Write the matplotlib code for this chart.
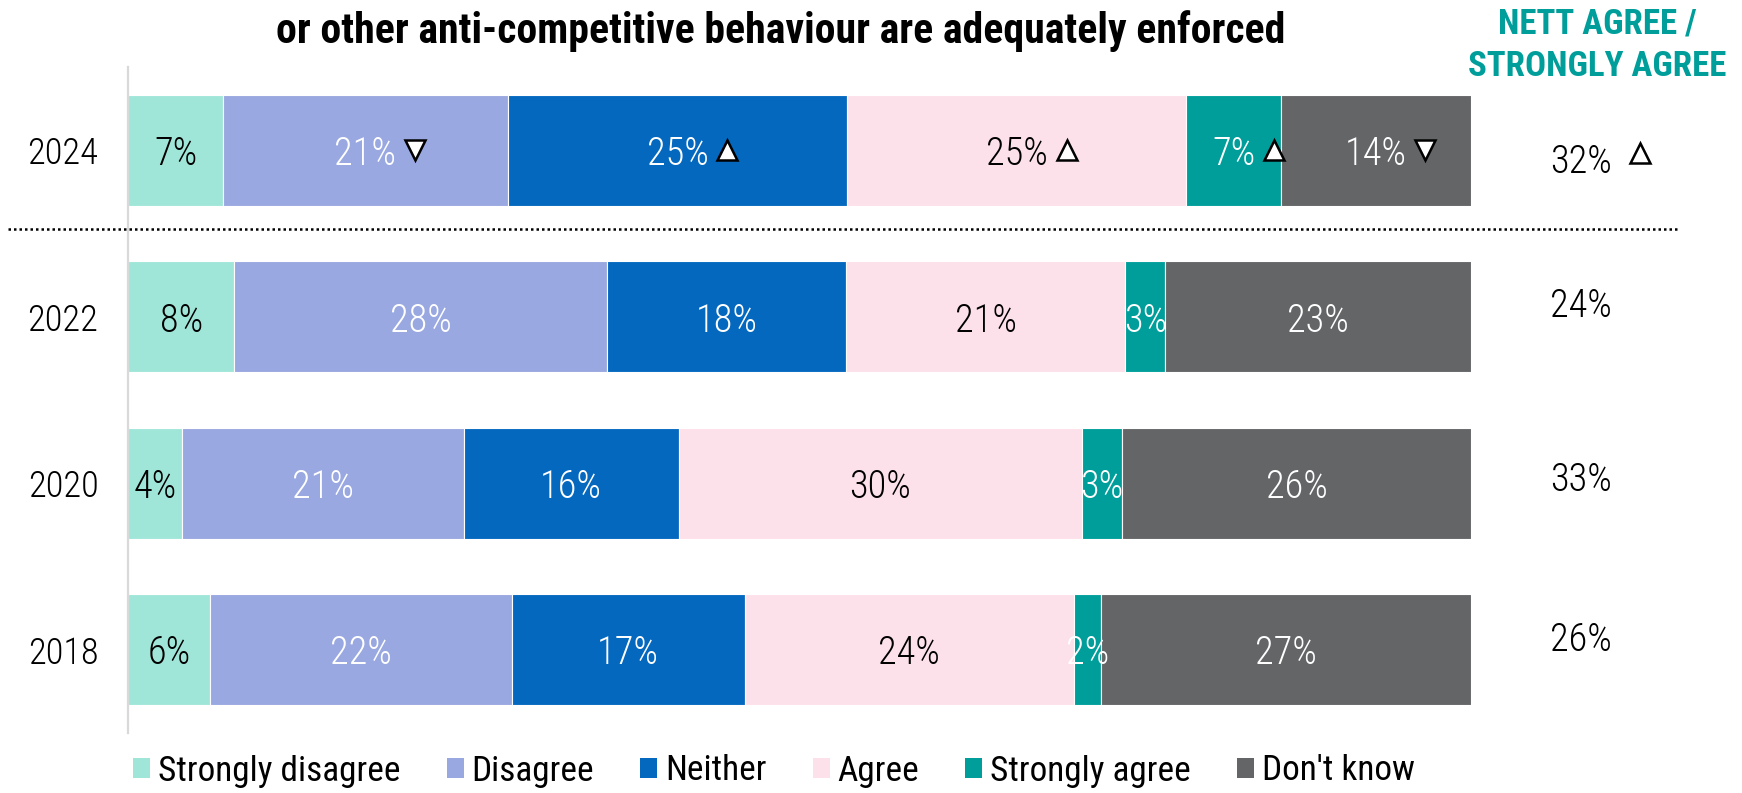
import matplotlib
matplotlib.use("Agg")
import numpy as np
import matplotlib.pyplot as plt
import matplotlib.transforms as mtransforms
from matplotlib import font_manager
from matplotlib.font_manager import FontProperties
from matplotlib.textpath import TextPath
from matplotlib.patches import Patch

# ---- data -------------------------------------------------------------
years = ["2024", "2022", "2020", "2018"]
categories = ["Strongly disagree", "Disagree", "Neither", "Agree",
              "Strongly agree", "Don't know"]
strongly_disagree = [7, 8, 4, 6]
disagree = [21, 28, 21, 22]
neither = [25, 18, 16, 17]
agree = [25, 21, 30, 24]
strongly_agree = [7, 3, 3, 2]
dont_know = [14, 23, 26, 27]
nett_agree = [32, 24, 33, 26]
# significant change vs previous wave (2024 only): +1 up, -1 down, 0 none
sig_2024 = [0, -1, 1, 1, 1, -1]
sig_nett = [1, 0, 0, 0]

title = "or other anti-competitive behaviour are adequately enforced"
nett_header = ["NETT AGREE /", "STRONGLY AGREE"]

colors = ["#A0E6D8", "#99A8E0", "#0468BF", "#FDE1EA", "#009E9A", "#646567"]
label_colors = ["black", "white", "white", "black", "white", "white"]
teal = "#009E9A"

# ---- fonts ------------------------------------------------------------
W, H, DPI = 1742, 793, 100


def _w(f):
    try:
        return int(f.weight)
    except (TypeError, ValueError):
        return font_manager.weight_dict.get(str(f.weight), 400)


def pick_font(prefs, weight, stretches):
    fl = font_manager.fontManager.ttflist
    for name in prefs:
        for st in stretches:
            c = [f for f in fl if f.name == name and f.style == "normal"
                 and f.stretch == st]
            if c:
                best = min(c, key=lambda f: abs(_w(f) - weight))
                return FontProperties(fname=best.fname)
    return FontProperties(family="DejaVu Sans", weight=weight)


def fit_size(fp, s, target_px):
    w = TextPath((0, 0), s, size=100, prop=fp).get_extents().width
    return target_px * 72.0 / DPI * 100.0 / w


prefs = ["Roboto Condensed", "Noto Sans", "Open Sans", "Liberation Sans Narrow",
         "DejaVu Sans"]
fp_title = pick_font(prefs, 800, ["condensed", "semi-condensed"])
fp_lab = pick_font(prefs, 300, ["condensed", "semi-condensed"])
fp_leg = pick_font(prefs, 400, ["semi-condensed", "condensed"])

fs_title = fit_size(fp_title, title, 1003)
fs_head = fit_size(fp_title, nett_header[1], 256)
fs_year = fit_size(fp_lab, "2024", 68)
fs_lab = fit_size(fp_lab, "25%", 58)
fs_leg = fit_size(fp_leg, categories[0], 239)

# ---- figure -----------------------------------------------------------
fig = plt.figure(figsize=(W / DPI, H / DPI), dpi=DPI)
ax = fig.add_axes([128 / W, 1 - 733 / H, 1343 / W, 666 / H])
ax.set_xlim(0, 100)
ax.set_ylim(3.5, -0.5)

series = [strongly_disagree, disagree, neither, agree, strongly_agree, dont_know]
vals = np.array(series, dtype=float)          # categories x years
totals = vals.sum(axis=0)
shares = vals / totals * 100.0
lefts = np.vstack([np.zeros(len(years)), np.cumsum(shares, axis=0)[:-1]])
ypos = np.arange(len(years))
bar_h = 0.667

for j, cat in enumerate(categories):
    ax.barh(ypos, shares[j], left=lefts[j], height=bar_h, color=colors[j],
            edgecolor="white", linewidth=0.8, label=cat)

px_per_pt = DPI / 72.0
text_drop = -4 / px_per_pt          # nudge labels slightly below bar centre
data_txt = mtransforms.offset_copy(ax.transData, fig=fig, y=text_drop, units="points")

for j in range(len(categories)):
    for i in range(len(years)):
        cx = lefts[j, i] + shares[j, i] / 2
        txt = f"{int(vals[j, i])}%"
        ax.text(cx, ypos[i], txt, ha="center", va="center", transform=data_txt,
                color=label_colors[j], fontproperties=fp_lab, fontsize=fs_lab)
        if i == 0 and sig_2024[j] != 0:
            tw = TextPath((0, 0), txt, size=fs_lab, prop=fp_lab).get_extents().width
            dx_px = tw * px_per_pt / 2 + 21
            tr = mtransforms.offset_copy(ax.transData, fig=fig, x=dx_px / px_per_pt,
                                         y=0, units="points")
            ax.plot(cx, ypos[i], marker="^" if sig_2024[j] > 0 else "v",
                    ms=15, mfc="white", mec="black", mew=1.8,
                    transform=tr, clip_on=False, zorder=5)

# year labels on the left
fig_x = mtransforms.blended_transform_factory(fig.transFigure, ax.transData)
fig_x_txt = mtransforms.offset_copy(fig_x, fig=fig, y=text_drop, units="points")
for i, yr in enumerate(years):
    ax.text(63 / W, ypos[i], yr, ha="center", va="center", transform=fig_x_txt,
            fontproperties=fp_lab, fontsize=fs_year, color="black")

# nett agree column
nett_dy = [0.05, -0.085, -0.04, -0.08]
for i, v in enumerate(nett_agree):
    y = ypos[i] + nett_dy[i]
    ax.text(1581 / W, y, f"{v}%", ha="center", va="center", transform=fig_x_txt,
            fontproperties=fp_lab, fontsize=fs_lab, color="black")
    if sig_nett[i] != 0:
        tr = mtransforms.offset_copy(fig_x, fig=fig, x=59 / px_per_pt,
                                     y=6 / px_per_pt, units="points")
        ax.plot(1581 / W, y, marker="^" if sig_nett[i] > 0 else "v", ms=15,
                mfc="white", mec="black", mew=1.8, transform=tr,
                clip_on=False, zorder=5)

# dotted separator between the latest wave and earlier waves
ax.plot([8 / W, 1679 / W], [0.47, 0.47], transform=fig_x, color="black",
        lw=1.8, linestyle=(0, (1, 1.2)), clip_on=False, zorder=4)

# axes styling
for s in ["top", "right", "bottom"]:
    ax.spines[s].set_visible(False)
ax.spines["left"].set_color("#d9d9d9")
ax.spines["left"].set_linewidth(1.6)
ax.set_xticks([])
ax.set_yticks([])

# titles
fig.text(781 / W, 1 - 31 / H, title, ha="center", va="center",
         fontproperties=fp_title, fontsize=fs_title, color="black")
fig.text(1597 / W, 1 - 24 / H, nett_header[0], ha="center", va="center",
         fontproperties=fp_title, fontsize=fs_head, color=teal)
fig.text(1597 / W, 1 - 67 / H, nett_header[1], ha="center", va="center",
         fontproperties=fp_title, fontsize=fs_head, color=teal)

# legend
leg_px = fs_leg * px_per_pt
handles = [Patch(facecolor=c, edgecolor="none", label=l)
           for c, l in zip(colors, categories)]
leg_prop = fp_leg.copy()
leg_prop.set_size(fs_leg)
fig.legend(handles=handles, loc="center left", bbox_to_anchor=(133 / W, 1 - 771 / H),
           ncol=6, frameon=False, prop=leg_prop, handlelength=17 / leg_px,
           handleheight=17 / leg_px, handletextpad=8 / leg_px,
           columnspacing=46 / leg_px, borderpad=0, borderaxespad=0)

fig.savefig("out.png", dpi=DPI)
